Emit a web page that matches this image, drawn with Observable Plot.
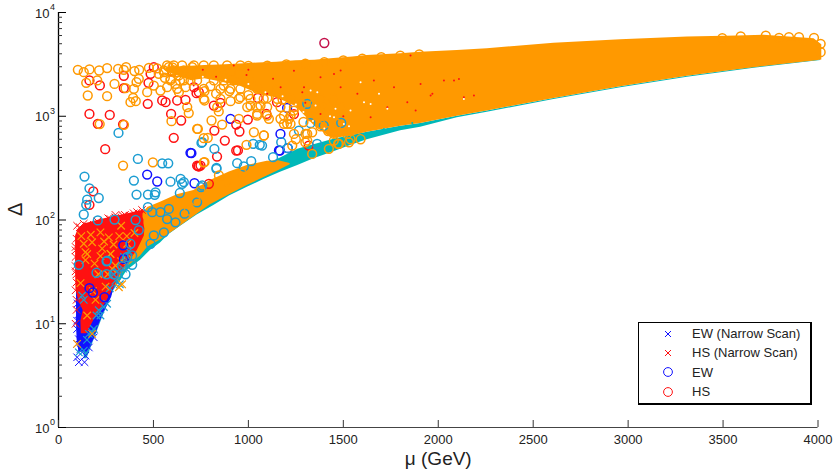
<!DOCTYPE html>
<html><head><meta charset="utf-8">
<script src="https://cdn.jsdelivr.net/npm/d3@7"></script>
<script src="https://cdn.jsdelivr.net/npm/@observablehq/plot@0.6"></script>
<style>
html,body{margin:0;padding:0;background:#fff}
#wrap{position:relative;width:833px;height:471px;font-family:"Liberation Sans",Arial,sans-serif;color:#222}
#wrap svg{overflow:visible}
#legend{position:absolute;left:638px;top:322px;width:171px;height:79px;border:1.5px solid #000;border-right-width:2px;border-bottom-width:2px;background:#fff;font-size:13px;line-height:19.3px;padding-top:1px;box-sizing:content-box}
#legend div{height:19.3px;white-space:nowrap;display:flex;align-items:center}
#legend svg{width:16px;height:16px;margin-left:21px;margin-right:16px;flex:none}
</style></head><body>
<div id="wrap"><div id="chart"></div>
<div id="legend">
<div><svg viewBox="-8 -8 16 16"><path d="M-3-3L3 3M-3 3L3-3" stroke="#1111ff" fill="none"/></svg>EW (Narrow Scan)</div>
<div><svg viewBox="-8 -8 16 16"><path d="M-3-3L3 3M-3 3L3-3" stroke="#ff1111" fill="none"/></svg>HS (Narrow Scan)</div>
<div><svg viewBox="-8 -8 16 16"><circle r="4.4" stroke="#1111ff" fill="none"/></svg>EW</div>
<div><svg viewBox="-8 -8 16 16"><circle r="4.4" stroke="#ff1111" fill="none"/></svg>HS</div>
</div></div>
<script>
const xTicks=[0,500,1000,1500,2000,2500,3000,3500,4000];
const yDecades=[1,10,100,1000,10000];
const yExponents=["0","1","2","3","4"];
const yMinor=[2,3,4,5,6,7,8,9,20,30,40,50,60,70,80,90,200,300,400,500,600,700,800,900,2000,3000,4000,5000,6000,7000,8000,9000];

// dense regions read as envelopes: [mu, lower, upper]
const lightBand=[[135,4.6,5.4],[150,4.6,6.5],[186,6.9,10],[239,12.4,17],[292,21,29],[340,28,37]];
const tealBand=[[320,25,32],[362,32.6,44],[432,41,60],[485,51,72],[537,60,85],[580,72,100],[643,87,123],[730,112,160],[818,138,200],[900,170,250],[994,207,290],[1081,245,335],[1169,289,395],[1260,335,480],[1345,389,530],[1450,455,600],[1538,522,650],[1626,595,700],[1802,725,800],[1907,783,850],[2100,965,1000],[2258,1094,1125],[2609,1449,1485],[2961,1879,1925],[3312,2377,2430],[3663,2904,2970],[4014,3443,3510]];
const orangeLow=[[300,24,34],[360,35,60],[432,45,110],[470,55,132],[537,64,148],[625,83,175],[713,108,192],[800,140,240],[900,175,290],[994,215,335],[1099,265,369],[1160,300,372],[1220,340,350]];
const orangeHigh=[[570,2700,2950],[640,2400,3000],[700,2200,3030],[770,2300,3080],[850,2150,3120],[958,1950,3180],[1050,1650,3260],[1150,1500,3320],[1250,1250,3420],[1300,1000,3440],[1350,800,3470],[1420,650,3560],[1450,610,3600],[1550,650,3720],[1626,700,3846],[1802,800,4000],[1907,850,4150],[2100,1000,4300],[2258,1125,4467],[2609,1485,5058],[2961,1925,5458],[3312,2430,5800],[3575,2800,5950],[3716,3020,6050],[3979,3400,5600],[4020,3480,4900]];
// [delta, left mu, right mu]
const blueRows=[[5.3,108,150],[7,98,186],[10,95,215],[13.4,95,245],[18,95,280],[25,95,300]];
const redRows=[[8,120,150],[10.7,118,185],[13.4,130,222],[16,110,250],[21,92,285],[32.6,90,335],[50.8,90,415],[70,90,452],[82,105,455],[92,140,450],[100,215,450],[106,270,445],[114,360,445],[123,432,460]];

const blueX=[[107,4.26],[137,4.26],[98,4.75],[142,4.93],[116,5.7],[133,6.2],[107,7.1],[133,7.4],[116,9.2],[107,12.4],[116,14.5],[151,10.7],[195,11.6],[186,7.4],[160,5.9],[98,6.4],[125,8],[98,8.9],[98,10.7],[100,15.6]];
const redX=[[98,88],[133,92],[169,82],[221,88],[274,102],[327,102],[379,110],[414,119],[116,76],[95,66],[90,55],[90,44],[90,36],[90,51],[90,32],[90,21],[95,13.6],[90,10],[186,90],[240,96],[300,106],[350,112],[396,116],[112,85],[150,88],[205,97],[262,104],[300,112],[340,110],[440,125],[95,30],[95,25],[95,17]];
const lightX=[[125,18.7],[133,17],[256,15.6],[239,14.5],[221,12],[186,8.9],[177,8.3],[107,5.3],[133,5.5],[300,26],[323,24],[290,30],[345,44],[370,50],[150,7],[212,13.5],[270,22],[340,34],[160,8],[200,12],[310,32]];
const orangeX=[[221,76],[265,68],[133,59],[177,61],[230,53],[274,47],[151,47],[142,41],[362,59],[221,44.8],[274,47.2],[142,49],[116,24.6],[248,22.8],[181,20.6],[195,17],[151,12],[177,8],[98,6.4],[300,36.4],[283,33.8],[335,24],[318,22.5],[400,75],[330,88],[190,38],[320,70],[240,62],[290,58],[360,70],[120,70],[170,72],[210,30],[260,30],[330,40],[390,42]];

const blueO=[[695,444],[906,944],[1204,1205],[700,441],[1169,676],[1166,467],[716,226],[1161,468],[467,274],[520,235],[341,57],[344,42],[163,22],[181,20],[242,18],[1644,985],[1310,1416],[1208,492]];
const redO=[[163,2213],[218,1982],[344,2455],[344,1866],[474,2099],[470,1318],[163,1054],[270,1030],[207,845],[340,836],[246,482],[593,1054],[646,910],[607,619],[669,1439],[564,1368],[730,335],[727,1667],[818,1268],[853,1346],[936,832],[953,713],[821,728],[876,583],[997,929],[936,467],[835,409],[748,335],[1151,1368],[1243,1449],[1095,1054],[1313,1153],[1318,522],[945,468],[739,328],[792,223],[183,189],[163,140],[736,330],[485,2564],[502,2972],[546,1419],[625,1419],[713,1905],[739,1706],[1477,1014],[1300,1280],[1450,1300],[1400,1100],[1240,1050],[1050,1500],[600,2700],[680,2600]];
const lightO=[[316,691],[418,388],[546,352],[578,352],[757,562],[753,553],[821,484],[1025,542],[1060,530],[1072,522],[1015,369],[832,318],[1130,403],[1173,562],[1266,728],[1327,857],[1310,1318],[1208,492],[1397,813],[1362,542],[941,353],[832,311],[976,328],[660,232],[643,249],[751,207],[137,262],[163,202],[212,163],[151,157],[146,140],[133,113],[207,99],[295,101],[397,240],[411,176],[471,176],[511,185],[507,175],[590,234],[651,223],[639,182],[471,133],[406,100],[423,80],[494,119],[537,119],[581,128],[572,102],[664,115],[616,95],[502,71],[379,59],[256,40.5],[107,37],[362,44],[388,37],[730,148],[757,215],[555,76],[485,59],[200,31],[253,40],[253,30],[291,30],[335,36],[353,30],[388,45.5],[1489,863]];
const orangeO=[[102,2805],[133,2660],[163,2825],[214,2760],[256,2911],[314,2865],[356,2972],[344,2805],[400,2723],[425,2805],[476,2931],[146,2099],[204,2213],[295,2051],[353,1866],[397,1837],[423,2296],[411,2133],[154,1585],[256,1563],[379,1368],[407,1396],[393,1500],[217,840],[345,826],[595,897],[678,1225],[686,1072],[730,757],[340,335],[497,360],[769,361],
[555,2761],[581,2972],[607,2761],[634,2472],[660,2761],[590,2296],[616,2051],[572,1905],[634,1706],[669,1905],[704,2972],[695,2213],[537,1770],[502,1977],[467,1706],[528,2564],[730,2564],[520,2900],[600,2950],[640,2200],[560,2350],
[769,1419],[769,1746],[844,1112],[862,832],[806,910],[734,755],[786,619],[765,615],[950,944],[1029,701],[1081,652],[990,530],[765,360],[1239,1135],[1108,944],[1169,944],[1213,944],[1187,845],[1222,845],[1301,676],[1336,701],[1231,522],[1336,433],[1046,1054],[1011,1268],[1064,1268],[906,1396],[958,1528],[870,1977],[800,1950],[830,1650],[900,1750],[1000,1600],[1100,1500],[1180,1450],[1280,1300],[1330,1000],[1380,800],[1420,720],[1290,880],[1250,600],[1300,560],
[572,3085],[607,3085],[651,3085],[713,3085],[765,3085],[818,3085],[888,3085],[958,3085],
[555,2660],[625,2660],[695,2660],[748,2660],[836,2660],[906,2660],
[590,2213],[660,2213],[730,2213],[818,2213],[871,2213],[923,2213],[1011,2213],
[625,1837],[765,1837],[853,1837],[906,1837],[958,1837],[1046,1837],[1152,1837],
[765,1473],[853,1473],[950,1473],[1011,1473],[1081,1473],[1152,1473],[1222,1473],[1310,1473],[1380,1473],[1450,1473],
[836,1225],[994,1225],[1046,1225],[1099,1225],[1169,1225],[1240,1225],[1354,1225],[1424,1225],[1485,1225],
[1046,1016],[1099,1016],[1187,1016],[1222,1016],[1380,1016],[1450,1016],
[1204,845],[1380,845],[1468,845],[1240,676],[1310,676],[1450,676],[1520,676],[1310,583],[1450,583],[1538,600],
[1082,653],[845,269],[1477,542],[1424,485],[748,192],[888,237],[722,154],[967,282],[686,123],[1530,561],[1472,541],[1591,600],
[1000,3050],[1100,3080],[1200,3160],[1300,3220],[1400,3330],[1500,3450],[1600,3600],[1700,3720],[1800,3830],[1900,3950],
[3593,5875],[3725,5998],[3795,5702],[3847,5781],[3900,5781],[3979,5702],[3496,5662],[4014,4989],[4014,4150]];
const crimsonO=[[1400,5082]];

const whiteSpecks=[[1328,1770],[1363,1706],[1459,1178],[1451,977],[1591,2128],[1688,1644],[1609,1365],[1538,1135],[1354,1268],[1503,843],[1644,1315],[1732,1178],[2135,1469],[1250,1300],[1290,1100],[1340,900],[1400,760],[1180,1560],[1090,1700],[1000,2050],[880,2250],[760,2400],[1430,1000],[1530,800]];
const redSpecks=[[1293,1905],[1284,1706],[1380,2377],[1486,2761],[1486,1905],[1854,3846],[1837,1365],[1907,2051],[2135,1524],[1969,1644],[1881,1135],[1732,1222],[1644,977],[1574,1644],[1451,2560],[1661,2208],[1767,1905],[2030,2208],[2083,2208],[2109,2291],[1960,1585],[2188,1585],[712,1977],[923,3083],[1099,1644],[760,2800],[830,2400],[990,2500],[1130,2300],[1240,2750],[1000,2800],[1170,1900],[1300,1350],[1380,1050],[1500,1000]];
const tealSpecks=[[1591,640],[1626,637],[1714,755],[1863,860]];

const ink="#222";
const RED="#ff1111",BLUE="#1111ff",LIGHT="#1b9dd2",ORANGE="#ff9900",TEAL="#00b8b8";
const xy={x:d=>d[0],y:d=>d[1]};
const ring=(data,stroke)=>Plot.dot(data,{...xy,r:4.4,stroke,strokeWidth:1.5,fill:"none"});
const cross=(data,stroke,w=1)=>Plot.dot(data,{...xy,r:3.5,symbol:"times",stroke,strokeWidth:w,fill:"none"});
const speck=(data,fill)=>Plot.dot(data,{...xy,r:1,fill,stroke:"none"});
const band=(data,fill)=>Plot.areaY(data,{x:d=>d[0],y1:d=>d[1],y2:d=>d[2],fill});
const rows=(data,fill)=>Plot.areaX(data,{y:d=>d[0],x1:d=>d[1],x2:d=>d[2],fill});

const chart=Plot.plot({
  width:833,height:471,
  marginLeft:58,marginRight:15.5,marginTop:12,marginBottom:44,
  style:{fontFamily:'"Liberation Sans",Arial,sans-serif',background:"#fff",color:ink,overflow:"visible"},
  x:{domain:[0,4000]},
  y:{type:"log",domain:[1,10000]},
  marks:[
    band(lightBand,LIGHT),
    band(tealBand,TEAL),
    band(orangeLow,ORANGE),
    rows(blueRows,BLUE),
    cross(blueX,BLUE),
    rows(redRows,RED),
    cross(redX,RED),
    cross(lightX,LIGHT,1.2),
    cross(orangeX,ORANGE,1.2),
    ring(blueO,BLUE),
    ring(redO,RED),
    band(orangeHigh,ORANGE),
    ring(lightO,LIGHT),
    ring(orangeO,ORANGE),
    ring(crimsonO,"#c4104a"),
    speck(redSpecks,RED),
    speck(whiteSpecks,"#fff"),
    speck(tealSpecks,TEAL),
    Plot.ruleY([1],{stroke:"#444",strokeWidth:1}),
    Plot.ruleX([0],{stroke:"#000",strokeWidth:1.3}),
    Plot.axisX(xTicks,{label:null,tickSize:-7,tickPadding:14,fontSize:13,stroke:"#333",fill:ink,tickFormat:d=>String(d)}),
    Plot.axisY(yDecades,{label:null,tickSize:-8,tickFormat:()=>"",stroke:"#000"}),
    Plot.axisY(yMinor,{label:null,tickSize:-4,tickFormat:()=>"",stroke:"#333"}),
    Plot.text(yDecades,{x:0,y:d=>d,text:()=>"10",textAnchor:"end",dx:-9,dy:1,fontSize:13,fill:ink}),
    Plot.text(yDecades,{x:0,y:d=>d,text:(d,i)=>yExponents[i],textAnchor:"start",dx:-8.5,dy:-5,fontSize:9,fill:ink}),
    Plot.text(["μ (GeV)"],{frameAnchor:"bottom",dy:37,fontSize:19,fill:ink}),
    Plot.text(["Δ"],{frameAnchor:"left",rotate:-90,dx:-43,dy:-4,fontSize:20,fill:ink})
  ]
});
document.getElementById("chart").append(chart);
</script>
</body></html>
